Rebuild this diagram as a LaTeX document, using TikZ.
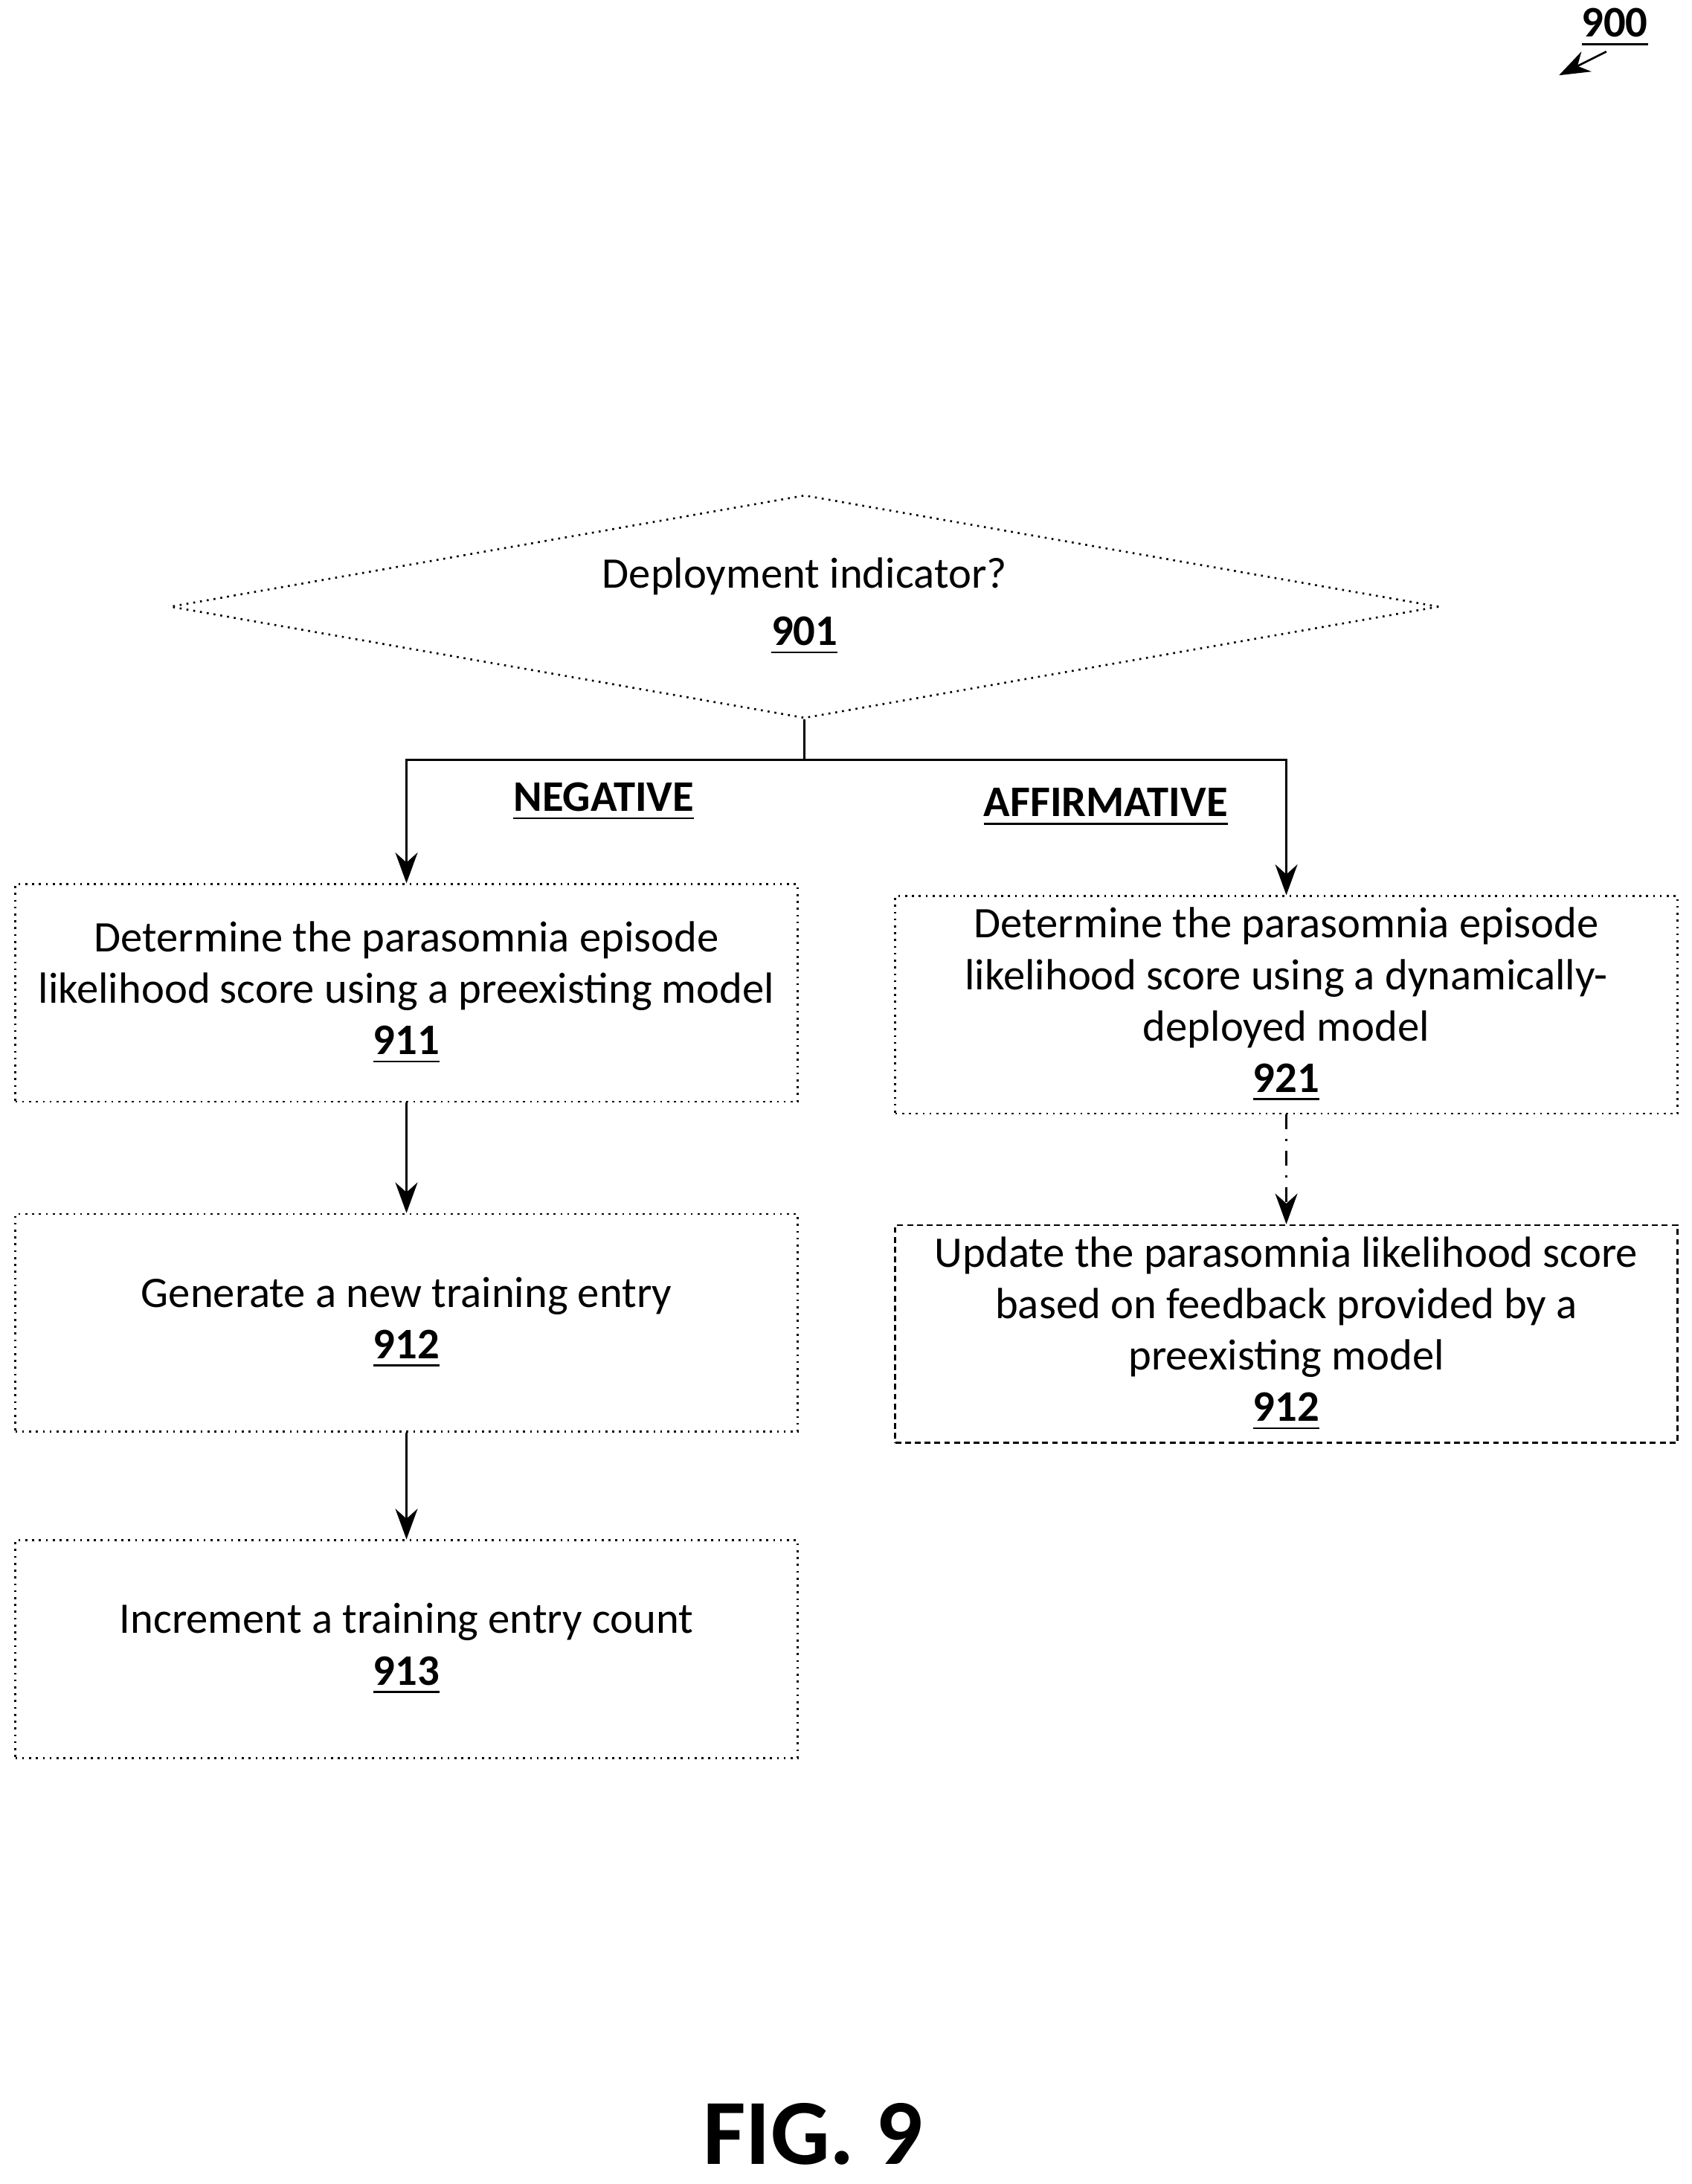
\documentclass[tikz,border=0pt]{standalone}
\usepackage{fontspec}
\setmainfont{Carlito}
\usetikzlibrary{shapes.geometric,arrows.meta,positioning}
\newcommand{\refnum}[1]{\underline{\textbf{#1}}}
\tikzset{box/.style={rectangle,draw,densely dotted,thin,minimum width=5.61cm,minimum height=1.56cm,
                     align=center,font=\fontsize{8.9}{10.5}\selectfont,inner sep=0pt},
         decision/.style={diamond,draw,densely dotted,thin,minimum width=9.1cm,minimum height=1.6cm,
                     aspect=5.7,inner sep=0pt,align=center,font=\fontsize{8.9}{10.5}\selectfont},
         branch label/.style={font=\fontsize{8.9}{10.5}\selectfont\bfseries},
         flow/.style={-{Stealth[length=2.2mm,width=1.6mm]},thin}
}
\begin{document}
\begin{tikzpicture}[x=0.1mm,y=-0.1mm]
\useasboundingbox (0,0) rectangle (1213,1566);
% decision
\node[decision] (deploy) at (577,435) {Deployment indicator?\\[0.4mm]\refnum{901}};
% negative branch
\node[box] (score) at (291.5,712) {Determine the parasomnia episode\\likelihood score using a preexisting model\\\refnum{911}};
\node[box] (entry) at (291.5,948.5) {Generate a new training entry\\\refnum{912}};
\node[box] (count) at (291.5,1182.5) {Increment a training entry count\\\refnum{913}};
% affirmative branch
\node[box] (dynscore) at (922.5,720.5) {Determine the parasomnia episode\\likelihood score using a dynamically-\\deployed model\\\refnum{921}};
\node[box,dash pattern=on 1.2pt off 0.8pt] (update) at (922.5,956.5) {Update the parasomnia likelihood score\\based on feedback provided by a\\preexisting model\\\refnum{912}};
% connectors
\coordinate (split) at (577,545);
\draw (deploy.south) -- (split);
\draw[flow] (split) -| (score.north);
\draw[flow] (split) -| (dynscore.north);
\node[branch label] (neg) at (433,575) {\underline{NEGATIVE}};
\node[branch label] (aff) at (793,579) {\underline{AFFIRMATIVE}};
\draw[flow] (score) -- (entry);
\draw[flow] (entry) -- (count);
\draw[flow,dash dot] (dynscore) -- (update);
% figure labels
\node[branch label] (fignum) at (1158,20) {\underline{900}};
\coordinate (figtip) at (1118,54);
\draw[flow] (1152,37) -- (figtip);
\node[font=\fontsize{19}{22}\selectfont\bfseries] (fig) at (583,1530) {FIG. 9};
\end{tikzpicture}
\end{document}
